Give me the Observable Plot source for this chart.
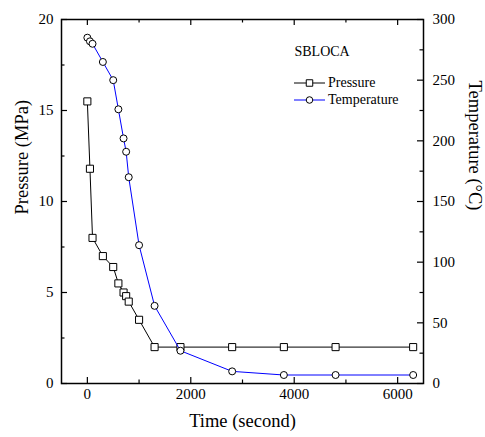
<!DOCTYPE html>
<html><head><meta charset="utf-8">
<script src="https://cdn.jsdelivr.net/npm/d3@7"></script>
<script src="https://cdn.jsdelivr.net/npm/@observablehq/plot@0.6"></script>
<style>body{margin:0;background:#fff}</style>
</head><body><div id="chart"></div>
<script>
// Data
const time        = [0, 50, 100, 300, 500, 600, 700, 750, 800, 1000, 1300, 1800, 2800, 3800, 4800, 6300];
const pressure    = [15.5, 11.8, 8.0, 7.0, 6.4, 5.5, 5.0, 4.8, 4.5, 3.5, 2.0, 2.0, 2.0, 2.0, 2.0, 2.0];
const temperature = [285, 282, 280, 265, 250, 226, 202, 191, 170, 114, 64, 27, 10, 7, 7, 7];

const xMajor = [0, 2000, 4000, 6000];
const xMinor = [1000, 3000, 5000];
const pMajor = [0, 5, 10, 15, 20];
const pMinor = [2.5, 7.5, 12.5, 17.5];
const tMajor = [0, 50, 100, 150, 200, 250, 300];
const tMinor = [25, 75, 125, 175, 225, 275];

const xDomain = [-500, 6500];
const pDomain = [0, 20];
const tDomain = [0, 300];
const ratio = tDomain[1] / pDomain[1]; // temperature mapped onto pressure scale

const W = 485, H = 437;
const mL = 61, mR = 62, mT = 19, mB = 54;
const pw = W - mL - mR, ph = H - mT - mB;
const majorLen = 6, minorLen = 3.5;
const font = "Liberation Serif, Times New Roman, serif";

const pData = time.map((t, i) => ({t, v: pressure[i]}));
const tData = time.map((t, i) => ({t, v: temperature[i] / ratio}));

const svg = Plot.plot({
  width: W, height: H,
  marginLeft: mL, marginRight: mR, marginTop: mT, marginBottom: mB,
  style: {fontFamily: font, fontSize: "15px", fontWeight: "normal", color: "black", background: "white"},
  x: {domain: xDomain},
  y: {domain: pDomain},
  marks: [
    // tick labels
    Plot.axisX(xMajor, {tickSize: 0, tickPadding: 5, label: null, fontSize: 15, tickFormat: d => String(d)}),
    Plot.axisY(pMajor, {anchor: "left", tickSize: 0, tickPadding: 8, label: null, fontSize: 15, tickFormat: d => String(d)}),
    Plot.axisY(tMajor.map(d => d / ratio), {anchor: "right", tickSize: 0, tickPadding: 9, label: null, fontSize: 15,
      tickFormat: d => String(Math.round(d * ratio))}),
    // inward ticks
    Plot.ruleX(xMajor, {insetTop: ph - majorLen, stroke: "black", strokeWidth: 1.2}),
    Plot.ruleX(xMinor, {insetTop: ph - minorLen, stroke: "black", strokeWidth: 1.2}),
    Plot.ruleX(xMajor, {insetBottom: ph - majorLen, stroke: "black", strokeWidth: 1.2}),
    Plot.ruleX(xMinor, {insetBottom: ph - minorLen, stroke: "black", strokeWidth: 1.2}),
    Plot.ruleY(pMajor, {insetRight: pw - majorLen, stroke: "black", strokeWidth: 1.2}),
    Plot.ruleY(pMinor, {insetRight: pw - minorLen, stroke: "black", strokeWidth: 1.2}),
    Plot.ruleY(tMajor.map(d => d / ratio), {insetLeft: pw - majorLen, stroke: "black", strokeWidth: 1.2}),
    Plot.ruleY(tMinor.map(d => d / ratio), {insetLeft: pw - minorLen, stroke: "black", strokeWidth: 1.2}),
    Plot.frame({stroke: "black", strokeWidth: 1.5}),
    // series
    Plot.line(pData, {x: "t", y: "v", stroke: "black", strokeWidth: 1}),
    Plot.dot(pData, {x: "t", y: "v", symbol: "square", r: 4, fill: "white", stroke: "black", strokeWidth: 1}),
    Plot.line(tData, {x: "t", y: "v", stroke: "#0000ff", strokeWidth: 1}),
    Plot.dot(tData, {x: "t", y: "v", symbol: "circle", r: 3.5, fill: "white", stroke: "black", strokeWidth: 1}),
    // axis titles
    Plot.text(["Time (second)"], {frameAnchor: "bottom", dy: 43, fontSize: 18.5, fontWeight: "normal", fill: "black"}),
    Plot.text(["Pressure (MPa)"], {frameAnchor: "left", dx: -39, dy: 13, rotate: -90, fontSize: 18.5, fontWeight: "normal", fill: "black"}),
    Plot.text(["Temperature (°C)"], {frameAnchor: "right", dx: 51, dy: 9, rotate: 90, fontSize: 18.5, fontWeight: "normal", fill: "black"}),
    // annotation
    Plot.text(["SBLOCA"], {frameAnchor: "top-left", dx: 294 - mL, dy: 46 - mT, textAnchor: "start", fontSize: 14, fontWeight: "normal", fill: "black"})
  ]
});

// legend
const lg = d3.select(svg).append("g")
  .attr("font-family", font).attr("font-size", 14).attr("font-weight", "normal")
  .attr("text-anchor", "start");
const rows = [
  {label: "Pressure", color: "black", sym: d3.symbolSquare, size: 42, y: 83},
  {label: "Temperature", color: "#0000ff", sym: d3.symbolCircle, size: 34, y: 100}
];
for (const r of rows) {
  lg.append("line").attr("x1", 294).attr("x2", 325).attr("y1", r.y).attr("y2", r.y)
    .attr("stroke", r.color).attr("stroke-width", 1);
  lg.append("path").attr("d", d3.symbol(r.sym, r.size)()).attr("transform", `translate(309.5,${r.y})`)
    .attr("fill", "white").attr("stroke", "black").attr("stroke-width", 1);
  lg.append("text").attr("x", 328).attr("y", r.y).attr("dy", "0.32em")
    .attr("text-anchor", "start").attr("fill", "black").text(r.label);
}

document.getElementById("chart").appendChild(svg);
</script>
</body></html>
